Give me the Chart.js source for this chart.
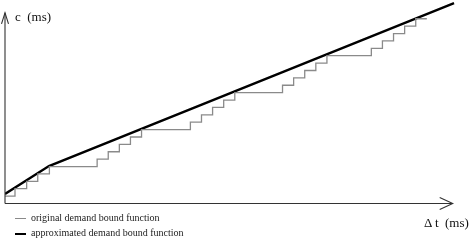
<!DOCTYPE html>
<html>
<head>
<meta charset="utf-8">
<script src="https://cdn.jsdelivr.net/npm/chart.js@4/dist/chart.umd.min.js"></script>
<style>
  html, body { margin: 0; padding: 0; background: #fff; }
  #wrap { position: relative; width: 474px; height: 240px; overflow: hidden; }
  canvas { position: absolute; left: 0; top: 0; }
  .lbl { position: absolute; font-family: "Liberation Serif", "DejaVu Serif", serif; color: #111; white-space: pre; line-height: 1; }
  .leg { font-size: 10px; color: #222; }
  .sw { position: absolute; height: 0; }
</style>
</head>
<body>
<div id="wrap">
  <canvas id="c" width="474" height="240"></canvas>
  <div class="lbl" style="left:15px; top:10px; font-size:13px;">c  (ms)</div>
  <div class="lbl" style="left:424px; top:216px; font-size:13px;">Δ t  (ms)</div>
  <div class="sw" style="left:15px; top:218px; width:11px; border-top:1.3px solid #8a8a8a;"></div>
  <div class="lbl leg" style="left:31px; top:213px;">original demand bound function</div>
  <div class="sw" style="left:15px; top:233px; width:11px; border-top:2.4px solid #000;"></div>
  <div class="lbl leg" style="left:31px; top:228px;">approximated demand bound function</div>
</div>
<script>
// Original demand bound function: riser positions (x) and the level reached at each (y)
const dbfX = [0, 0.9, 1.95, 2.95, 4.0, 8.3, 9.3, 10.3, 11.3, 12.3, 16.7, 17.7, 18.7, 19.7, 20.7, 25, 26, 27, 28, 29, 33, 34, 35, 36, 37, 38];
const dbfLevels = [1, 2, 3, 4, 5, 6, 7, 8, 9, 10, 11, 12, 13, 14, 15, 16, 17, 18, 19, 20, 21, 22, 23, 24, 25, 25];
// Approximated demand bound function (piecewise linear)
const approxX = [0, 3.96, 40.45];
const approxY = [1.29, 5.07, 27.1];
const seriesLabels = ["original demand bound function", "approximated demand bound function"];

const arrowAxes = {
  id: 'arrowAxes',
  afterDatasetsDraw(chart, args, opts) {
    const {ctx, scales: {x, y}} = chart;
    const x0 = x.getPixelForValue(0), y0 = y.getPixelForValue(0);
    const xEnd = x.getPixelForValue(opts.xEnd), yEnd = y.getPixelForValue(opts.yEnd);
    ctx.save();
    ctx.strokeStyle = '#333';
    ctx.lineWidth = 1.1;
    ctx.beginPath();
    ctx.moveTo(x0, y0); ctx.lineTo(xEnd, y0);
    ctx.moveTo(x0, y0); ctx.lineTo(x0, yEnd);
    ctx.stroke();
    ctx.beginPath();
    ctx.moveTo(xEnd - 13, y0 - 6); ctx.lineTo(xEnd, y0); ctx.lineTo(xEnd - 13, y0 + 6);
    ctx.moveTo(x0 - 3.5, yEnd + 11); ctx.lineTo(x0, yEnd); ctx.lineTo(x0 + 3.5, yEnd + 11);
    ctx.stroke();
    ctx.restore();
  }
};

new Chart(document.getElementById('c'), {
  type: 'line',
  data: {
    datasets: [
      {
        label: seriesLabels[0],
        data: dbfX.map((v, i) => ({x: v, y: dbfLevels[i]})),
        stepped: 'before',
        borderColor: '#8a8a8a',
        borderWidth: 1.3,
        pointRadius: 0,
        fill: false
      },
      {
        label: seriesLabels[1],
        data: approxX.map((v, i) => ({x: v, y: approxY[i]})),
        borderColor: '#000',
        borderWidth: 2.4,
        pointRadius: 0,
        tension: 0,
        fill: false
      }
    ]
  },
  options: {
    responsive: false,
    animation: false,
    devicePixelRatio: 1,
    layout: { padding: { left: 5, right: 18.3, top: 1.75, bottom: 36.5 } },
    scales: {
      x: { type: 'linear', min: 0, max: 40.6, display: false },
      y: { type: 'linear', min: 0, max: 27.3, display: false }
    },
    plugins: {
      legend: { display: false },
      tooltip: { enabled: false },
      arrowAxes: { xEnd: 40.33, yEnd: 25.8 }
    }
  },
  plugins: [arrowAxes]
});
</script>
</body>
</html>
